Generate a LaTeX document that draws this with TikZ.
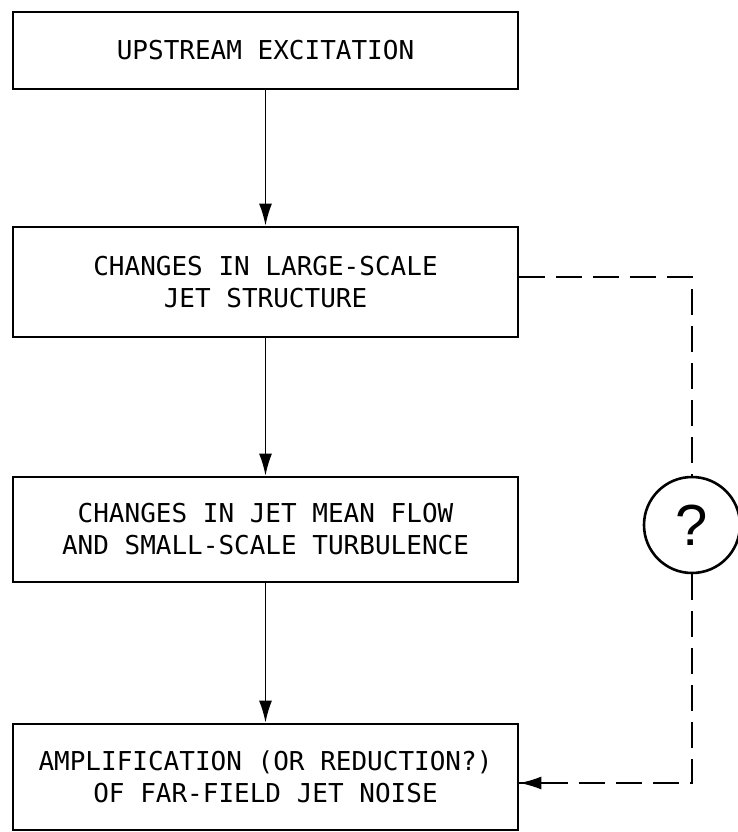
\documentclass[tikz,border=0pt]{standalone}
\usepackage{fontspec}
\newfontfamily\boxfont{DejaVu Sans Mono}
\newfontfamily\qfont{Liberation Sans}
\usetikzlibrary{arrows.meta}
\begin{document}
\begin{tikzpicture}[x=1pt,y=-1pt,
  flowbox/.style={draw, line width=2.8pt, minimum width=505pt, inner sep=0pt,
    align=center, font=\boxfont\fontsize{26}{32}\selectfont},
  flowarrow/.style={line width=1.7pt, -{Latex[length=22pt,width=13pt]}},
  dashline/.style={line width=1.7pt, dash pattern=on 26pt off 11pt},
  qcircle/.style={draw, circle, line width=2.6pt, minimum size=96pt, inner sep=0pt,
    font=\qfont\fontsize{58}{60}\selectfont}
]
\useasboundingbox (0,0) rectangle (737,832);
\node[flowbox, minimum height=77pt] (b1) at (265.5,50.5) {UPSTREAM EXCITATION};
\node[flowbox, minimum height=110pt] (b2) at (265.5,282) {CHANGES IN LARGE-SCALE\\JET STRUCTURE};
\node[flowbox, minimum height=105pt] (b3) at (265.5,529.5) {CHANGES IN JET MEAN FLOW\\AND SMALL-SCALE TURBULENCE};
\node[flowbox, minimum height=106pt] (b4) at (265.5,777) {AMPLIFICATION (OR REDUCTION?)\\OF FAR-FIELD JET NOISE};
\node[qcircle] (q) at (692,525) {?};
\coordinate (c1) at (692,277);
\coordinate (c2) at (692,783);
\draw[flowarrow] (b1) -- (b2);
\draw[flowarrow] (b2) -- (b3);
\draw[flowarrow] (b3) -- (b4);
\draw[dashline] (b2.east |- c1) -- (c1) -- (q.north);
\draw[dashline] (q.south) -- (c2) -- (b4.east |- c2);
\draw[flowarrow] ([xshift=32pt]b4.east |- c2) -- (b4.east |- c2);
\end{tikzpicture}
\end{document}
